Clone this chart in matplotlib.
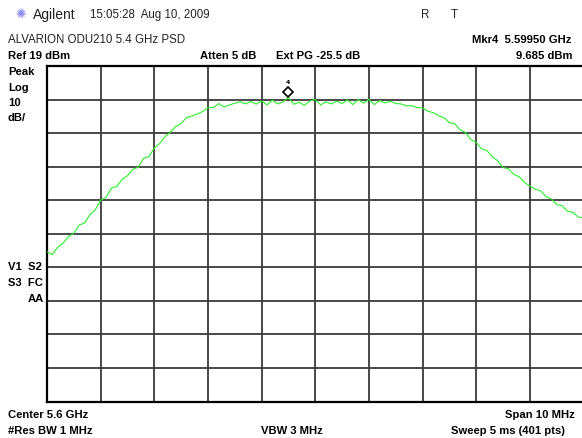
import matplotlib
matplotlib.use('Agg')
import matplotlib.pyplot as plt
import matplotlib.transforms as mtransforms

# trace, one point every 0.1 division (1 MHz/div)
freq_mhz = [5595.0 + i * 0.1 for i in range(101)]
level_dbm = [
    -36.4, -37.2, -35.0, -33.8, -31.8, -30.9, -28.4, -27.8, -25.3, -23.9,
    -21.0, -20.2, -17.4, -16.9, -14.8, -13.7, -11.8, -11.2, -8.5, -8.0,
    -5.4, -4.1, -2.0, -0.7, 1.0, 1.9, 3.6, 4.1, 4.7, 5.4,
    6.6, 6.6, 7.8, 6.8, 7.4, 7.9, 8.3, 7.7, 8.4, 7.6,
    8.6, 7.4, 8.8, 7.7, 8.3, 9.7, 7.6, 8.2, 7.3, 8.6,
    9.0, 7.4, 8.3, 7.7, 8.5, 7.8, 8.9, 7.5, 9.0, 7.9,
    9.1, 7.5, 8.7, 8.0, 8.5, 7.8, 7.7, 7.1, 7.2, 6.6,
    6.5, 5.5, 5.1, 4.2, 3.6, 2.1, 1.8, 0.0, -0.8, -2.9,
    -3.8, -5.7, -6.2, -8.1, -9.2, -11.3, -11.6, -13.3, -14.0, -15.7,
    -16.8, -17.7, -18.2, -19.9, -20.6, -22.3, -22.6, -24.3, -24.6, -26.0,
    -26.3,
]
marker_freq = 5599.5
marker_level = 9.685

ref_level = 19
db_per_div = 10
center_mhz = 5600
span_mhz = 10

W, H = 582, 438
fig = plt.figure(figsize=(W / 100, H / 100), dpi=100)
fig.patch.set_facecolor('white')

def fx(x):
    return x / W

def fy(y):
    return 1 - y / H

left, top, right, bottom = 47, 66, 583.5, 401.5
ax = fig.add_axes([fx(left), fy(bottom), (right - left) / W, (bottom - top) / H])
ax.set_xlim(center_mhz - span_mhz / 2, center_mhz + span_mhz / 2)
ax.set_ylim(ref_level - 10 * db_per_div, ref_level)
ax.set_xticks([center_mhz - span_mhz / 2 + i * span_mhz / 10 for i in range(11)])
ax.set_yticks([ref_level - i * db_per_div for i in range(11)])
ax.tick_params(length=0, labelbottom=False, labelleft=False)
ax.grid(True, color='#3a3a3a', linewidth=1.3)
for s in ax.spines.values():
    s.set_linewidth(1.6)
    s.set_color('black')

ax.plot(freq_mhz, level_dbm, color='#2af02a', linewidth=0.8, zorder=3)

# marker diamond sits a few pixels above the trace point
off = mtransforms.offset_copy(ax.transData, fig=fig, x=0, y=5, units='dots')
ax.plot([marker_freq], [marker_level], marker='D', markersize=5.5, mfc='white',
        mec='black', mew=1.2, transform=off, clip_on=False, zorder=4)
off2 = mtransforms.offset_copy(ax.transData, fig=fig, x=0, y=15, units='dots')
ax.text(marker_freq, marker_level, '4', transform=off2, fontsize=4.5,
        ha='center', va='center', fontweight='bold')

reg = dict(family='Liberation Sans', fontsize=8.3, color='#222222', va='center')
bold = dict(family='Liberation Sans', fontsize=8.1, fontweight='bold', color='black', va='center')

fig.text(fx(21), fy(15), '\u273a', family='DejaVu Sans', fontsize=9, color='#8c8cf0',
         ha='center', va='center')
fig.text(fx(33), fy(15), 'Agilent', ha='left', family='Liberation Sans', fontsize=10,
         color='#222222', va='center')
fig.text(fx(90), fy(15), '15:05:28  Aug 10, 2009', ha='left', **reg)
fig.text(fx(421), fy(15), 'R', ha='left', **reg)
fig.text(fx(451), fy(15), 'T', ha='left', **reg)
fig.text(fx(8), fy(40), 'ALVARION ODU210 5.4 GHz PSD', ha='left', **reg)

fig.text(fx(8), fy(56), 'Ref 19 dBm', ha='left', **bold)
fig.text(fx(200), fy(56), 'Atten 5 dB', ha='left', **bold)
fig.text(fx(276), fy(56), 'Ext PG -25.5 dB', ha='left', **bold)
fig.text(fx(571), fy(40), 'Mkr4  5.59950 GHz', ha='right', **bold)
fig.text(fx(573), fy(56), '9.685 dBm', ha='right', **bold)

fig.text(fx(8), fy(72), 'Peak', ha='left', **bold)
fig.text(fx(8), fy(88), 'Log', ha='left', **bold)
fig.text(fx(8), fy(103), '10', ha='left', **bold)
fig.text(fx(8), fy(118), 'dB/', ha='left', **bold)

fig.text(fx(8), fy(267), 'V1  S2', ha='left', **bold)
fig.text(fx(8), fy(283), 'S3  FC', ha='left', **bold)
fig.text(fx(44), fy(299), 'AA', ha='right', **bold)

fig.text(fx(8), fy(415), 'Center 5.6 GHz', ha='left', **bold)
fig.text(fx(575), fy(415), 'Span 10 MHz', ha='right', **bold)
fig.text(fx(8), fy(431), '#Res BW 1 MHz', ha='left', **bold)
fig.text(fx(292), fy(431), 'VBW 3 MHz', ha='center', **bold)
fig.text(fx(565), fy(431), 'Sweep 5 ms (401 pts)', ha='right', **bold)

fig.savefig('out.png', dpi=100, facecolor='white')
